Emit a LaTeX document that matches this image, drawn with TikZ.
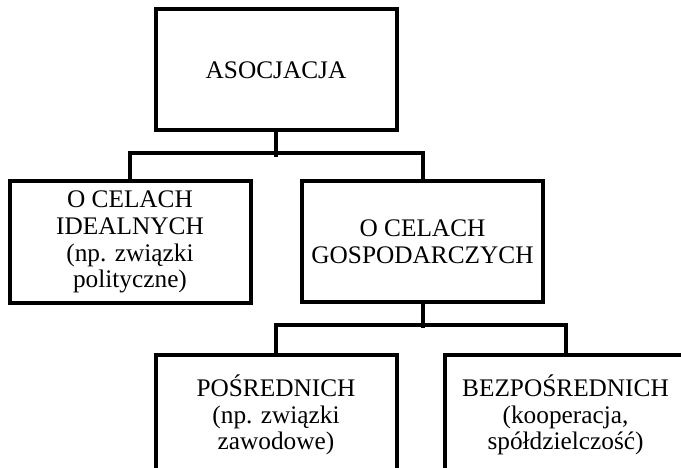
\documentclass[tikz,border=0pt]{standalone}
\usepackage{fontspec}
\setmainfont{Liberation Serif}
\begin{document}
\begin{tikzpicture}[x=1pt,y=-1pt,
  box/.style={draw=black, line width=4pt, minimum width=241pt, minimum height=121pt,
    align=center, inner sep=0pt, font=\fontsize{25.3}{26.8}\selectfont},
  link/.style={draw=black, line width=4pt}]
  \useasboundingbox (0,0) rectangle (681,468);
  \clip (0,0) rectangle (681,468);
  % top level
  \node[box] (top) at (276,70) {ASOCJACJA};
  % second level
  \node[box] (ideal) at (130,242) {O CELACH\\IDEALNYCH\\(np. związki\\polityczne)};
  \node[box] (gosp) at (422.5,241.5) {O CELACH\\GOSPODARCZYCH};
  % third level (boxes run past the lower and right edges)
  \node[box] (posr) at (276,415) {POŚREDNICH\\(np. związki\\zawodowe)};
  \node[box] (bezp) at (565.5,415) {BEZPOŚREDNICH\\(kooperacja,\\spółdzielczość)};
  % connectors
  \draw[link] (top.south) -- ++(0,25);
  \draw[link] (ideal.north) -- ++(0,-26) -| (gosp.north);
  \draw[link] (gosp.south) -- ++(0,24);
  \draw[link] (posr.north) -- ++(0,-28) -| (bezp.north);
\end{tikzpicture}
\end{document}
